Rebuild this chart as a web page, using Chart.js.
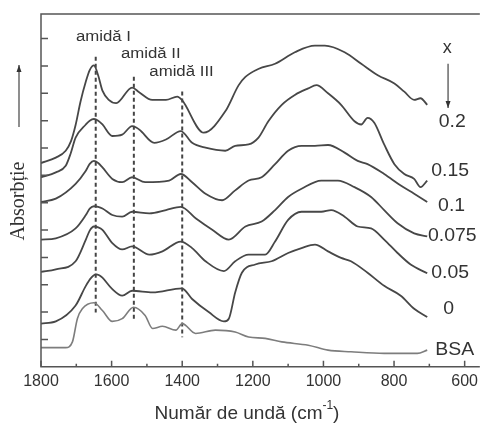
<!DOCTYPE html>
<html>
<head>
<meta charset="utf-8">
<script src="https://cdn.jsdelivr.net/npm/chart.js@4.4.0/dist/chart.umd.min.js"></script>
<style>
  body { margin: 0; background: #fff; }
  #c { display: block; }
</style>
</head>
<body>
<canvas id="c" width="483" height="425"></canvas>
<script>
// spectra, wavenumber (cm-1) and absorbance (offset)
const w02 = [1800,1758,1730,1715,1702,1688,1673,1662,1650,1638,1626,1608,1587,1542,1522,1485,1446,1414,1401,1339,1278,1240,1221,1183,1137,1081,1024,996,940,893,846,799,771,743,725,706];
const a02 = [7.45,7.65,7.9,8.25,8.84,9.7,10.43,10.85,11.02,10.65,10.1,9.76,9.64,10.21,10.04,9.76,9.76,9.88,9.76,8.56,9.34,10.30,10.6,10.90,11.08,11.5,11.74,11.74,11.5,11.08,10.66,10.36,10.06,9.76,9.82,9.58];

const w015 = [1800,1758,1730,1716,1702,1673,1662,1650,1638,1626,1598,1570,1542,1522,1479,1446,1404,1372,1334,1278,1250,1212,1184,1156,1118,1081,1043,1020,987,950,912,893,875,856,828,799,771,743,725,706];
const a015 = [6.93,7.11,7.35,7.8,8.38,8.86,9.0,9.06,9.0,8.86,8.44,8.49,8.80,8.68,8.19,8.31,8.62,8.19,8.01,7.90,8.08,8.13,8.38,8.98,9.58,9.94,10.18,10.30,10.0,9.58,8.98,8.86,9.10,8.92,8.13,7.41,7.05,6.87,6.57,6.81];

const w01 = [1800,1758,1702,1673,1662,1650,1638,1626,1598,1570,1542,1505,1437,1404,1372,1334,1287,1250,1212,1175,1137,1100,1062,1024,987,940,903,875,828,781,743,706];
const a01 = [6.03,6.15,6.69,7.17,7.42,7.53,7.45,7.29,6.87,6.75,6.93,6.75,6.81,7.05,6.75,6.33,6.09,6.45,6.81,6.93,7.41,7.90,8.08,8.08,8.11,7.83,7.53,7.41,7.05,6.63,6.33,6.03];

const w0075 = [1800,1758,1702,1673,1662,1650,1638,1626,1598,1570,1542,1493,1446,1404,1362,1315,1268,1221,1175,1137,1100,1062,1006,959,912,865,828,790,743,706];
const a0075 = [4.65,4.70,5.06,5.55,5.78,5.87,5.85,5.79,5.55,5.49,5.67,5.61,5.73,5.85,5.43,5.01,4.65,5.13,5.31,5.73,6.21,6.51,6.81,6.81,6.57,6.21,5.73,5.25,4.88,4.77];

const w005 = [1800,1758,1702,1673,1662,1650,1638,1626,1598,1570,1542,1493,1456,1404,1372,1334,1282,1250,1212,1165,1137,1100,1062,1006,978,940,903,865,828,790,753,706];
const a005 = [3.47,3.56,3.86,4.65,4.98,5.13,5.1,5.01,4.52,4.29,4.40,4.10,4.22,4.58,4.34,3.86,3.50,3.86,4.10,4.10,4.58,5.37,5.67,5.67,5.73,5.49,5.13,5.06,4.65,4.16,3.74,3.42];

const w00 = [1800,1758,1702,1673,1658,1645,1635,1626,1598,1570,1542,1484,1401,1372,1325,1282,1268,1250,1231,1193,1147,1100,1062,1024,987,950,922,875,828,781,743,706];
const a00 = [1.58,1.66,2.24,2.96,3.25,3.38,3.35,3.26,2.84,2.60,2.78,2.72,2.87,2.48,2.0,1.66,1.76,2.72,3.44,3.74,3.86,4.16,4.34,4.47,4.22,3.98,3.86,3.44,2.96,2.60,2.12,1.82];

const wBSA = [1800,1730,1711,1697,1683,1650,1626,1598,1570,1538,1505,1484,1456,1418,1400,1362,1306,1250,1212,1165,1118,1043,987,922,828,734,706];
const aBSA = [0.70,0.70,0.91,1.76,2.12,2.34,2.06,1.66,1.76,2.18,1.88,1.40,1.48,1.34,1.58,1.22,1.34,1.27,1.09,1.04,0.91,0.79,0.61,0.55,0.49,0.49,0.61];

// amide band markers (dashed)
const amideWave = [1645, 1537, 1400];
const amideTop = [11.34, 10.61, 10.07];
const amideBottom = [1.99, 1.66, 1.08];
const amideNames = ['amidă I', 'amidă II', 'amidă III'];

const xTicks = [1800, 1600, 1400, 1200, 1000, 800, 600];
const curveNames = ['0.2', '0.15', '0.1', '0.075', '0.05', '0', 'BSA'];

function pts(w, a) { return w.map((v, i) => ({ x: v, y: a[i] })); }

const curves = [[w02, a02], [w015, a015], [w01, a01], [w0075, a0075], [w005, a005], [w00, a00], [wBSA, aBSA]];
const datasets = curves.map((c, i) => ({
  label: curveNames[i],
  data: pts(c[0], c[1]),
  borderColor: i === 6 ? '#7d7d7d' : '#474747',
  borderWidth: i === 6 ? 1.6 : 1.8,
  pointRadius: 0,
  cubicInterpolationMode: 'monotone',
  fill: false
}));
amideWave.forEach((w, i) => {
  datasets.push({
    label: amideNames[i],
    data: [{ x: w, y: amideTop[i] }, { x: w, y: amideBottom[i] }],
    borderColor: '#444',
    borderWidth: 2,
    borderDash: [4, 3],
    pointRadius: 0
  });
});

// label anchors in data units
const curveLabelPos = [[635, 8.94], [641, 7.17], [637, 5.88], [635, 4.77], [641, 3.44], [645, 2.13], [628, 0.63]];
const amideLabelPos = [[1623, 12.06], [1489, 11.44], [1402, 10.76]];

function arrow(ctx, x, y0, y1) {
  ctx.beginPath();
  ctx.moveTo(x, y0);
  ctx.lineTo(x, y1);
  ctx.stroke();
  const d = y1 > y0 ? 1 : -1;
  ctx.beginPath();
  ctx.moveTo(x, y1);
  ctx.lineTo(x - 2.5, y1 - d * 7);
  ctx.lineTo(x + 2.5, y1 - d * 7);
  ctx.closePath();
  ctx.fill();
}

// text slightly widened, as in the scanned figure
function wideText(ctx, s, x, y, k) {
  ctx.save();
  ctx.translate(x, y);
  ctx.scale(k, 1);
  ctx.fillText(s, 0, 0);
  ctx.restore();
}

const decor = {
  id: 'decor',
  afterDraw(chart) {
    const ctx = chart.ctx, a = chart.chartArea;
    const xs = chart.scales.x, ys = chart.scales.y;
    ctx.save();
    ctx.strokeStyle = '#555';
    ctx.fillStyle = '#444';
    ctx.lineWidth = 1.5;
    // frame (right side is cut off in the original)
    ctx.beginPath();
    ctx.moveTo(a.right, a.top);
    ctx.lineTo(a.left, a.top);
    ctx.lineTo(a.left, a.bottom);
    ctx.lineTo(a.right, a.bottom);
    ctx.stroke();
    // inward ticks
    ctx.beginPath();
    for (let v = 1; v <= 12; v++) {
      const y = ys.getPixelForValue(v);
      ctx.moveTo(a.left, y);
      ctx.lineTo(a.left + 7, y);
    }
    for (let v = 600; v <= 1800; v += 100) {
      const x = xs.getPixelForValue(v);
      ctx.moveTo(x, a.bottom);
      ctx.lineTo(x, a.bottom - (v % 200 === 0 ? 6 : 3));
    }
    ctx.stroke();

    ctx.fillStyle = '#333';
    ctx.textAlign = 'center';
    ctx.textBaseline = 'middle';
    ctx.font = '14px "Liberation Sans", Arial, sans-serif';
    amideNames.forEach((n, i) => {
      wideText(ctx, n, xs.getPixelForValue(amideLabelPos[i][0]), ys.getPixelForValue(amideLabelPos[i][1]), 1.2);
    });
    ctx.font = '18px "Liberation Sans", Arial, sans-serif';
    curveNames.forEach((n, i) => {
      wideText(ctx, n, xs.getPixelForValue(curveLabelPos[i][0]), ys.getPixelForValue(curveLabelPos[i][1]), 1.08);
    });
    ctx.fillText('x', xs.getPixelForValue(649), ys.getPixelForValue(11.66));
    ctx.lineWidth = 1.2;
    ctx.strokeStyle = '#444';
    arrow(ctx, xs.getPixelForValue(647), ys.getPixelForValue(11.08), ys.getPixelForValue(9.46));

    // y title with arrow
    arrow(ctx, 19, 127, 65);
    ctx.save();
    ctx.translate(19, 201);
    ctx.rotate(-Math.PI / 2);
    ctx.font = '20px "Liberation Serif", "Times New Roman", serif';
    ctx.fillText('Absorbție', 0, 0);
    ctx.restore();

    // x title
    ctx.font = '19px "Liberation Sans", Arial, sans-serif';
    ctx.textAlign = 'left';
    const main = 'Număr de undă (cm', sup = '-1';
    const wMain = ctx.measureText(main).width;
    ctx.font = '12px "Liberation Sans", Arial, sans-serif';
    const wSup = ctx.measureText(sup).width;
    ctx.font = '19px "Liberation Sans", Arial, sans-serif';
    const wEnd = ctx.measureText(')').width;
    let x0 = 247 - (wMain + wSup + wEnd) / 2;
    ctx.fillText(main, x0, 414);
    ctx.font = '12px "Liberation Sans", Arial, sans-serif';
    ctx.fillText(sup, x0 + wMain, 406);
    ctx.font = '19px "Liberation Sans", Arial, sans-serif';
    ctx.fillText(')', x0 + wMain + wSup, 414);
    ctx.restore();
  }
};

new Chart(document.getElementById('c'), {
  type: 'line',
  data: { datasets: datasets },
  options: {
    responsive: false,
    animation: false,
    devicePixelRatio: 1,
    layout: { padding: { left: 41, top: 14, right: 0, bottom: 29 } },
    plugins: { legend: { display: false }, tooltip: { enabled: false } },
    scales: {
      x: {
        type: 'linear',
        reverse: true,
        min: 557,
        max: 1800,
        afterBuildTicks: (axis) => { axis.ticks = xTicks.map(v => ({ value: v })); },
        grid: { display: false, drawTicks: false },
        border: { display: false },
        ticks: {
          color: '#333',
          padding: 5,
          maxRotation: 0,
          autoSkip: false,
          callback: (v) => String(v),
          font: { family: '"Liberation Sans", Arial, sans-serif', size: 16 }
        }
      },
      y: { display: false, min: 0, max: 12.9 }
    }
  },
  plugins: [decor]
});
</script>
</body>
</html>
